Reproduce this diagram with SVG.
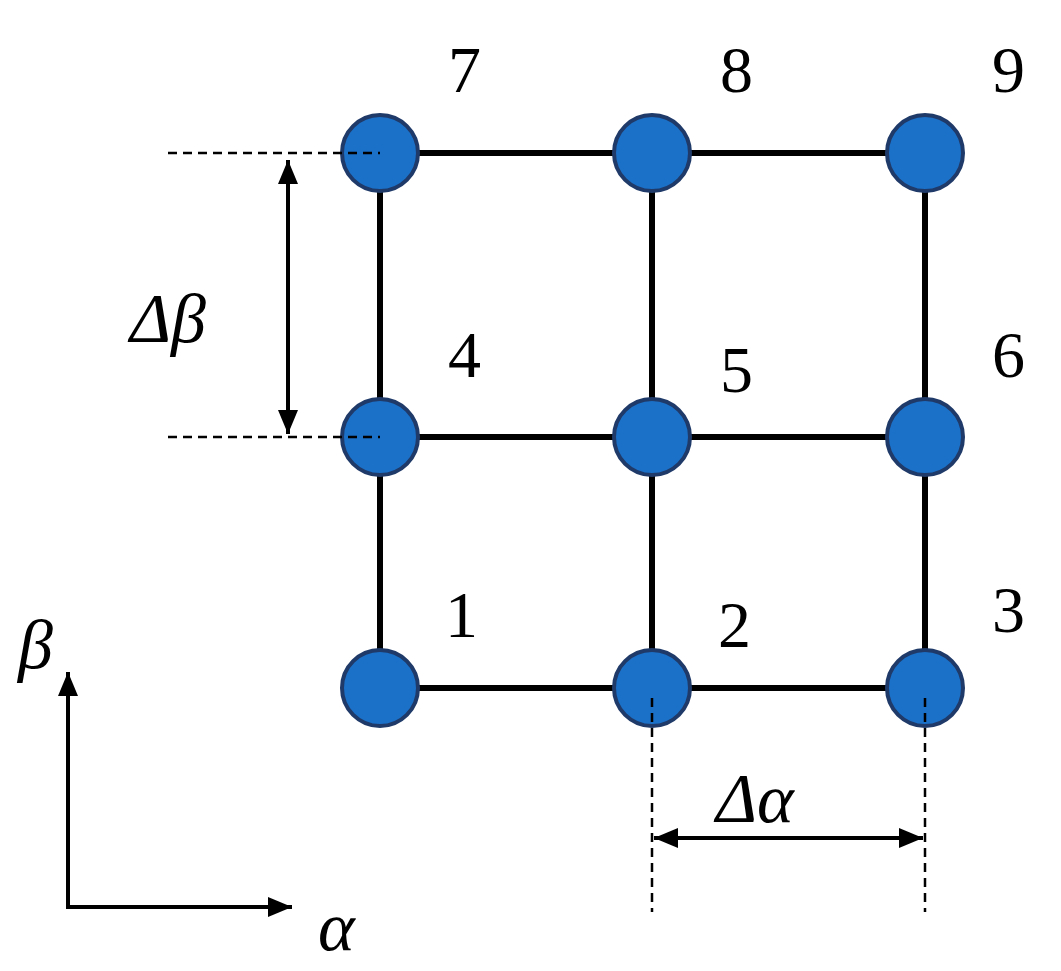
<svg xmlns="http://www.w3.org/2000/svg" width="1061" height="971" viewBox="0 0 1061 971">
<style>
.n{fill:#1b70c8;stroke:#1f3a68;stroke-width:4}
.e{stroke:#000;stroke-width:6}
.d{stroke:#000;stroke-width:2.5;stroke-dasharray:9,6}
.a{stroke:#000;stroke-width:4;fill:none}
text{font-family:"Liberation Serif",serif;font-size:66px;fill:#000}
.i{font-style:italic;font-size:70px}
</style>
<defs>
<marker id="ah" viewBox="0 0 10 10" refX="10" refY="5" markerWidth="24" markerHeight="20" markerUnits="userSpaceOnUse" orient="auto-start-reverse" preserveAspectRatio="none">
<path d="M0,0L10,5L0,10z" fill="#000"/>
</marker>
</defs>
<rect width="1061" height="971" fill="#fff"/>
<g id="connectors">
<line class="e" x1="380" y1="153" x2="925" y2="153"/>
<line class="e" x1="380" y1="437" x2="925" y2="437"/>
<line class="e" x1="380" y1="688" x2="925" y2="688"/>
<line class="e" x1="380" y1="153" x2="380" y2="688"/>
<line class="e" x1="652" y1="153" x2="652" y2="688"/>
<line class="e" x1="925" y1="153" x2="925" y2="688"/>
</g>
<g id="nodes">
<g id="n1"><circle class="n" cx="380" cy="688" r="38"/></g>
<g id="n2"><circle class="n" cx="652" cy="688" r="38"/></g>
<g id="n3"><circle class="n" cx="925" cy="688" r="38"/></g>
<g id="n4"><circle class="n" cx="380" cy="437" r="38"/></g>
<g id="n5"><circle class="n" cx="652" cy="437" r="38"/></g>
<g id="n6"><circle class="n" cx="925" cy="437" r="38"/></g>
<g id="n7"><circle class="n" cx="380" cy="153" r="38"/></g>
<g id="n8"><circle class="n" cx="652" cy="153" r="38"/></g>
<g id="n9"><circle class="n" cx="925" cy="153" r="38"/></g>
</g>
<g id="dims">
<line class="d" x1="168" y1="153" x2="380" y2="153"/>
<line class="d" x1="168" y1="437" x2="380" y2="437"/>
<line class="a" x1="288" y1="160" x2="288" y2="434" marker-start="url(#ah)" marker-end="url(#ah)"/>
<line class="d" x1="652" y1="698" x2="652" y2="912"/>
<line class="d" x1="925" y1="698" x2="925" y2="912"/>
<line class="a" x1="654" y1="838" x2="923" y2="838" marker-start="url(#ah)" marker-end="url(#ah)"/>
<line class="a" x1="68" y1="907" x2="68" y2="672" marker-end="url(#ah)"/>
<line class="a" x1="66" y1="907" x2="292" y2="907" marker-end="url(#ah)"/>
</g>
<g id="labels">
<text x="448" y="92">7</text><text x="720" y="92">8</text><text x="992" y="92">9</text>
<text x="448" y="377">4</text><text x="720" y="392">5</text><text x="992" y="377">6</text>
<text x="445" y="637">1</text><text x="718" y="647">2</text><text x="992" y="632">3</text>
<text class="i" x="130" y="342">Δβ</text>
<text class="i" x="716" y="822">Δα</text>
<text class="i" x="18" y="668">β</text>
<text class="i" x="318" y="950">α</text>
</g>
</svg>
